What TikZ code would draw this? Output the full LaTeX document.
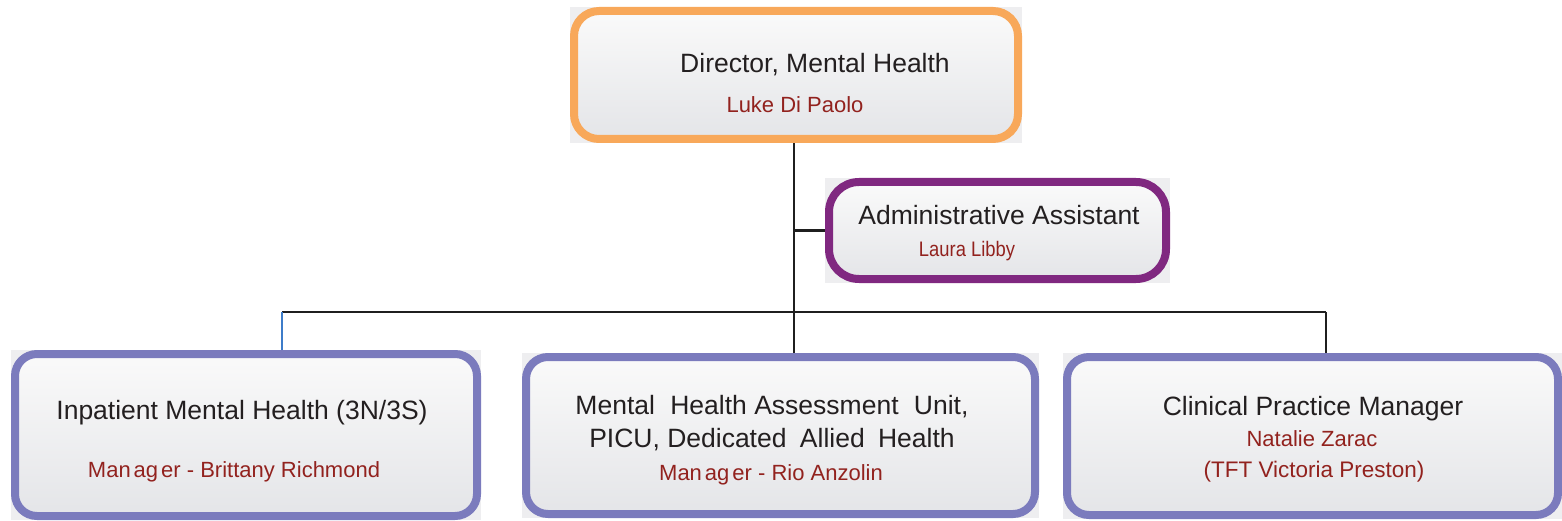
\documentclass[tikz,border=0pt]{standalone}
\usepackage{fontspec}
\setmainfont{Liberation Sans}
\usetikzlibrary{backgrounds}
\definecolor{orangeb}{RGB}{248,168,90}
\definecolor{purpleb}{RGB}{128,40,128}
\definecolor{blueb}{RGB}{123,123,189}
\definecolor{redt}{RGB}{146,34,30}
\definecolor{darkt}{RGB}{35,31,32}
\definecolor{boxbot}{RGB}{228,229,232}
\definecolor{boxtop}{RGB}{250,250,250}
\definecolor{bgrectc}{RGB}{238,238,240}
\definecolor{linkblue}{RGB}{61,124,201}
\begin{document}
\begin{tikzpicture}[x=1pt,y=-1pt,
  box/.style={draw, line width=8pt, rounded corners=22pt, top color=boxtop, bottom color=boxbot, inner sep=0pt},
  bgrect/.style={fill=bgrectc},
  title/.style={text=darkt, font=\fontsize{26.5}{30}\selectfont, anchor=base, inner sep=0pt},
  person/.style={text=redt, font=\fontsize{22}{26}\selectfont, anchor=base, inner sep=0pt},
  conn/.style={draw=black!88, line width=2.5pt}]
\useasboundingbox (0,0) rectangle (1562,521);

% boxes
\node[box, draw=orangeb, minimum width=444pt, minimum height=128pt, rounded corners=25pt] (dir) at (796,75) {};
\node[box, draw=purpleb, minimum width=337pt, minimum height=97pt, rounded corners=30pt] (adm) at (997.5,230.5) {};
\node[box, draw=blueb, minimum width=462pt, minimum height=162pt] (b1) at (246,435) {};
\node[box, draw=blueb, minimum width=509pt, minimum height=157pt] (b2) at (780.5,435.5) {};
\node[box, draw=blueb, minimum width=491pt, minimum height=158pt] (b3) at (1312.5,436) {};

% texts
\node[title] (dirT) at (815,73) {Director, Mental Health};
\node[person] (dirN) at (795,113) {Luke Di Paolo};
\node[title] (admT) at (999,225) {Administrative Assistant};
\node[person, font=\fontsize{21}{24}\selectfont] (admN) at (967,257) {\scalebox{0.875}[1]{Laura Libby}};
\node[title] (b1T) at (242,419) {Inpatient Mental Health (3N/3S)};
\node[person] (b1N) at (234,477) {Man\hspace{3pt}ag\hspace{3pt}er - Brittany Richmond};
\node[title] (b2T1) at (772,414) {Mental\hspace{8pt} Health Assessment\hspace{8pt} Unit,};
\node[title] (b2T2) at (772,447) {PICU, Dedicated\hspace{6pt} Allied\hspace{6pt} Health};
\node[person] (b2N) at (771,480) {Man\hspace{3pt}ag\hspace{3pt}er - Rio Anzolin};
\node[title] (b3T) at (1313,415) {Clinical Practice Manager};
\node[person] (b3N1) at (1312,446) {Natalie Zarac};
\node[person, font=\fontsize{22.5}{26}\selectfont] (b3N2) at (1314,477) {(TFT Victoria Preston)};

% connectors and backdrops
\coordinate (t) at (794,0);
\coordinate (busL) at (282,312);
\coordinate (busR) at (1326,312);
\begin{pgfonlayer}{background}
  \foreach \b in {dir,adm,b1,b2,b3}
    \fill[bgrect] (\b.north west) rectangle (\b.south east);
  \draw[conn] (t |- dir.south) -- (t |- b2.north);
  \draw[conn] (t |- adm.west) -- (adm.west);
  \draw[conn] (busL) -- (busR);
  \draw[conn, draw=linkblue] (busL) -- (busL |- b1.north);
  \draw[conn] (busR) -- (busR |- b3.north);
\end{pgfonlayer}
\end{tikzpicture}
\end{document}
